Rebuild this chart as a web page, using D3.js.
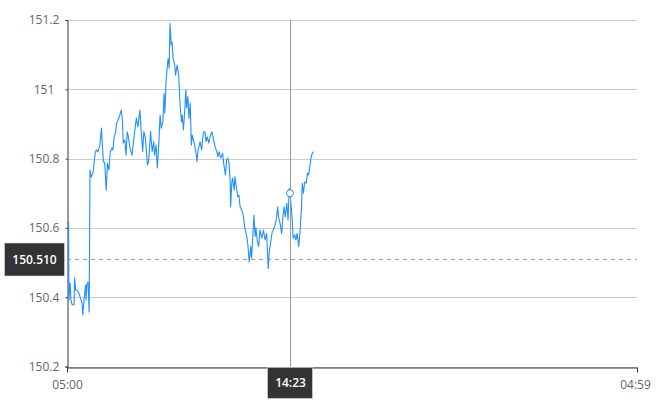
<!DOCTYPE html>
<html>
<head>
<meta charset="utf-8">
<script src="https://cdn.jsdelivr.net/npm/d3@7/dist/d3.min.js"></script>
<style>
  html, body { margin: 0; padding: 0; background: #fff; }
  svg { display: block; font-family: "Open Sans", "Noto Sans", sans-serif; }
</style>
</head>
<body>
<svg id="chart" width="670" height="400"></svg>
<script>
// Minutes after 05:00 session open
const minutes = [
  0,4,5,8,10,13,18,19,22,25,
  30,38,40,43,47,48,50,53,56,58,
  61,66,71,74,78,83,87,89,92,95,
  99,102,106,109,114,116,119,123,125,131,
  137,140,142,146,149,152,154,159,164,169,
  175,179,184,188,191,194,198,203,206,211,
  215,219,221,225,228,232,235,238,242,245,
  247,250,252,255,258,260,263,265,268,272,
  274,278,282,285,289,291,294,297,300,302,
  305,308,311,314,316,321,326,328,331,336,
  340,344,348,351,354,358,361,366,369,374,
  378,381,384,388,393,396,400,403,406,409,
  412,413,416,418,422,424,428,431,434,437,
  441,445,449,454,457,460,464,466,469,472,
  475,477,480,484,487,492,496,500,504,508,
  511,514,518,521,525,528,532,534,538,542,
  545,548,551,555,558,561,563,565,568,571,
  575,578,581,585,588,592,594,597,600,604,
  607,610,613,616,619,622
];
const prices = [
  150.617,150.617,150.392,150.441,150.392,150.378,150.378,150.455,150.421,150.421,
  150.412,150.383,150.349,150.392,150.435,150.392,150.435,150.444,150.357,150.767,
  150.747,150.761,150.816,150.825,150.819,150.839,150.888,150.845,150.790,150.790,
  150.709,150.787,150.767,150.819,150.831,150.825,150.862,150.877,150.903,150.917,
  150.940,150.911,150.845,150.854,150.810,150.877,150.868,150.831,150.810,150.859,
  150.917,150.892,150.940,150.868,150.820,150.878,150.859,150.782,150.791,150.878,
  150.820,150.849,150.810,150.839,150.773,150.849,150.926,150.888,150.906,150.988,
  150.932,151.022,151.051,151.089,151.061,151.190,151.128,151.137,151.089,151.070,
  151.041,151.070,151.041,150.964,150.906,150.926,150.883,150.935,150.998,150.946,
  150.979,150.916,150.960,150.839,150.868,150.845,150.816,150.791,150.825,150.849,
  150.825,150.874,150.878,150.849,150.863,150.845,150.863,150.878,150.859,150.834,
  150.820,150.805,150.820,150.802,150.815,150.782,150.753,150.796,150.802,150.787,
  150.733,150.661,150.730,150.744,150.709,150.748,150.714,150.690,150.695,150.661,
  150.652,150.637,150.599,150.575,150.546,150.502,150.546,150.513,150.575,150.637,
  150.575,150.600,150.565,150.546,150.594,150.570,150.594,150.565,150.584,150.483,
  150.536,150.556,150.589,150.594,150.608,150.623,150.661,150.632,150.613,150.584,
  150.632,150.661,150.632,150.671,150.623,150.714,150.700,150.676,150.632,150.570,
  150.580,150.565,150.584,150.546,150.584,150.661,150.729,150.700,150.733,150.729,
  150.758,150.753,150.777,150.801,150.815,150.820
];
const yTicks = [150.2, 150.4, 150.6, 150.8, 151, 151.2];
const sessionStart = "05:00";
const sessionEnd = "04:59";
const cursorMinute = 563;      // 14:23
const cursorPrice = 150.510;

const svg = d3.select("#chart");
const W = 670, H = 400;
const margin = {left: 67, right: 33, top: 20, bottom: 33.5};

const base = new Date(2024, 0, 1, 5, 0);
const toDate = m => new Date(base.getTime() + m * 60000);
const endDate = new Date(2024, 0, 2, 4, 59);

const x = d3.scaleTime().domain([base, endDate]).range([margin.left, W - margin.right]);
const y = d3.scaleLinear().domain([150.2, 151.2]).range([H - margin.bottom, margin.top]);

const data = minutes.map((m, i) => ({t: toDate(m), v: prices[i]}));

// gridlines
svg.append("g").selectAll("line").data(yTicks).join("line")
  .attr("x1", margin.left).attr("x2", W - margin.right)
  .attr("y1", d => Math.round(y(d)) + 0.5).attr("y2", d => Math.round(y(d)) + 0.5)
  .attr("stroke", "#cccccc").attr("stroke-width", 1);

// y axis
const yAxis = svg.append("g").attr("transform", `translate(${margin.left + 0.5},0)`)
  .call(d3.axisLeft(y).tickValues(yTicks).tickSize(2).tickFormat(d => d3.format("~g")(d)));
yAxis.select(".domain").attr("stroke", "#333");
yAxis.selectAll(".tick line").attr("stroke", "#333");
yAxis.selectAll(".tick text")
  .attr("x", 44 - margin.left - 0.5).attr("text-anchor", "middle")
  .attr("fill", "#666").style("font-size", "12px").style("font-family", "'Open Sans', sans-serif");

// x axis
const xAxis = svg.append("g").attr("transform", `translate(0,${Math.round(y(150.2)) + 0.5})`)
  .call(d3.axisBottom(x).tickValues([base, endDate]).tickSize(5).tickSizeOuter(0)
    .tickFormat(d3.timeFormat("%H:%M")));
xAxis.select(".domain").attr("stroke", "#333");
xAxis.selectAll(".tick line").attr("stroke", "#333");
xAxis.selectAll(".tick text")
  .attr("y", 13).attr("fill", "#666")
  .style("font-size", "12px").style("font-family", "'Open Sans', sans-serif");
xAxis.selectAll(".tick").filter((d, i) => i === 1).select("text").attr("dx", -2);

// line
const line = d3.line().x(d => x(d.t)).y(d => y(d.v));
svg.append("path").datum(data)
  .attr("fill", "none").attr("stroke", "#1e90ff").attr("stroke-width", 1.1)
  .attr("stroke-linejoin", "round")
  .attr("d", line);

// crosshair
const cx = Math.round(x(toDate(cursorMinute))) + 0.5;
const cy = Math.round(y(cursorPrice)) + 0.5;
svg.append("line").attr("x1", cx).attr("x2", cx)
  .attr("y1", y(151.2)).attr("y2", y(150.2))
  .attr("stroke", "#999").attr("stroke-width", 1);
svg.append("line").attr("x1", margin.left).attr("x2", W - margin.right)
  .attr("y1", cy).attr("y2", cy)
  .attr("stroke", "#999").attr("stroke-width", 1).attr("stroke-dasharray", "4,4");

// marker
const curPoint = data.find(d => +d.t === +toDate(cursorMinute));
svg.append("circle").attr("cx", x(curPoint.t)).attr("cy", y(curPoint.v)).attr("r", 3.5)
  .attr("fill", "#fff").attr("stroke", "#1e90ff").attr("stroke-width", 1);

// labels
const yLab = svg.append("g");
yLab.append("rect").attr("x", 4.5).attr("y", cy - 16.5).attr("width", 60).attr("height", 33)
  .attr("fill", "#333").attr("stroke", "#ddd").attr("stroke-opacity", 0.6);
yLab.append("text").attr("x", 34.5).attr("y", cy).attr("dy", "0.35em")
  .attr("text-anchor", "middle").attr("fill", "#fff")
  .style("font-size", "12px").style("font-weight", 600)
  .text(d3.format(".3f")(cursorPrice));

const xLab = svg.append("g");
xLab.append("rect").attr("x", cx - 23).attr("y", 367.5).attr("width", 45).attr("height", 31)
  .attr("fill", "#333").attr("stroke", "#ddd").attr("stroke-opacity", 0.6);
xLab.append("text").attr("x", cx).attr("y", 383).attr("dy", "0.35em")
  .attr("text-anchor", "middle").attr("fill", "#fff")
  .style("font-size", "12px").style("font-weight", 600)
  .text(d3.timeFormat("%H:%M")(toDate(cursorMinute)));
</script>
</body>
</html>
